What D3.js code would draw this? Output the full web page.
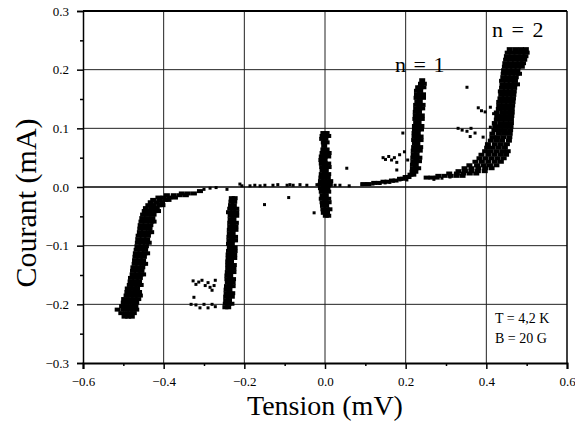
<!DOCTYPE html>
<html>
  <head>
    <meta charset="utf-8">
    <title>Courant / Tension</title>
    <script src="https://d3js.org/d3.v7.min.js"></script>
  </head>
  <style>
    body { margin: 0; background: #fff; }
    svg text { font-family: "Liberation Serif", "DejaVu Serif", "Noto Serif", serif; fill: #000; }
    .axis text { font-size: 13px; }
    .axis path, .axis line { stroke: #000; stroke-width: 1.5px; }
    .grid-line { stroke: #222; stroke-width: 1px; }
  </style>
  <body>
    <script>
      const width = 575;
      const height = 428;
      const margin = {top: 11, right: 8, bottom: 65, left: 83};

      // axis ticks
      const xTicks = [-0.6, -0.4, -0.2, 0.0, 0.2, 0.4, 0.6];
      const yTicks = [-0.3, -0.2, -0.1, 0.0, 0.1, 0.2, 0.3];
      const xMinor = [-0.5, -0.3, -0.1, 0.1, 0.3, 0.5];
      const yMinor = [-0.25, -0.15, -0.05, 0.05, 0.15, 0.25];

      // bands read row by row : [courant mA, [tensions mV]]
      // n = 2, negative branch
      const branchNeg2 = [
        [-0.221, [-0.497, -0.488, -0.479]],
        [-0.215, [-0.505, -0.493, -0.483, -0.474]],
        [-0.209, [-0.514, -0.499, -0.488, -0.477, -0.468]],
        [-0.203, [-0.503, -0.494, -0.482, -0.47]],
        [-0.197, [-0.499, -0.488, -0.476, -0.468]],
        [-0.191, [-0.498, -0.485, -0.473, -0.463]],
        [-0.185, [-0.492, -0.482, -0.471, -0.459]],
        [-0.179, [-0.49, -0.479, -0.468, -0.461]],
        [-0.173, [-0.489, -0.476, -0.466]],
        [-0.167, [-0.484, -0.474, -0.463, -0.457]],
        [-0.161, [-0.482, -0.471, -0.461]],
        [-0.155, [-0.481, -0.469, -0.459]],
        [-0.149, [-0.477, -0.467, -0.457, -0.451]],
        [-0.143, [-0.476, -0.465, -0.455]],
        [-0.137, [-0.475, -0.464, -0.453]],
        [-0.131, [-0.472, -0.462, -0.452, -0.446]],
        [-0.125, [-0.471, -0.461, -0.451]],
        [-0.119, [-0.47, -0.459, -0.449]],
        [-0.113, [-0.469, -0.458, -0.447, -0.441]],
        [-0.107, [-0.467, -0.456, -0.446]],
        [-0.101, [-0.465, -0.455, -0.444]],
        [-0.095, [-0.464, -0.453, -0.443, -0.437]],
        [-0.089, [-0.463, -0.452, -0.441]],
        [-0.083, [-0.462, -0.45, -0.439]],
        [-0.077, [-0.459, -0.449, -0.437, -0.431]],
        [-0.071, [-0.458, -0.447, -0.435]],
        [-0.065, [-0.457, -0.445, -0.433]],
        [-0.059, [-0.455, -0.443, -0.431, -0.425]],
        [-0.053, [-0.453, -0.441, -0.428]],
        [-0.047, [-0.451, -0.438, -0.425]],
        [-0.041, [-0.447, -0.434, -0.421, -0.414]],
        [-0.036, [-0.444, -0.43, -0.417]],
        [-0.031, [-0.438, -0.425, -0.411, -0.403]],
        [-0.026, [-0.432, -0.418, -0.404]],
        [-0.022, [-0.426, -0.41, -0.396, -0.388]],
        [-0.018, [-0.413, -0.4, -0.386, -0.372]],
        [-0.014, [-0.392, -0.375, -0.36, -0.345]],
        [-0.011, [-0.355, -0.34, -0.325]],
        [-0.007, [-0.31]]
      ];

      // n = 1, negative branch
      const branchNeg1 = [
        [-0.205, [-0.247, -0.24]],
        [-0.199, [-0.246, -0.239, -0.232]],
        [-0.193, [-0.245, -0.238]],
        [-0.187, [-0.245, -0.238, -0.231]],
        [-0.181, [-0.244, -0.237, -0.23]],
        [-0.175, [-0.244, -0.237]],
        [-0.169, [-0.243, -0.236, -0.229]],
        [-0.163, [-0.241, -0.236, -0.229]],
        [-0.157, [-0.242, -0.235, -0.228]],
        [-0.151, [-0.242, -0.235]],
        [-0.145, [-0.241, -0.234, -0.227]],
        [-0.139, [-0.24, -0.234, -0.227]],
        [-0.133, [-0.24, -0.233, -0.226]],
        [-0.127, [-0.24, -0.233]],
        [-0.121, [-0.239, -0.232, -0.225]],
        [-0.115, [-0.239, -0.232, -0.225]],
        [-0.109, [-0.238, -0.231, -0.224]],
        [-0.103, [-0.236, -0.231, -0.224]],
        [-0.097, [-0.238, -0.231]],
        [-0.091, [-0.237, -0.23, -0.223]],
        [-0.085, [-0.237, -0.23, -0.223]],
        [-0.079, [-0.236, -0.229]],
        [-0.073, [-0.236, -0.229, -0.222]],
        [-0.067, [-0.235, -0.228, -0.222]],
        [-0.061, [-0.235, -0.228, -0.221]],
        [-0.055, [-0.234, -0.227]],
        [-0.049, [-0.234, -0.227, -0.22]],
        [-0.043, [-0.238, -0.228, -0.22]],
        [-0.037, [-0.235, -0.227, -0.22]],
        [-0.031, [-0.233, -0.226]],
        [-0.025, [-0.232, -0.225]],
        [-0.019, [-0.231, -0.224]]
      ];

      // jump at V = 0
      const branchZero = [
        [0.092, [-0.004, 0.004]],
        [0.087, [-0.006, 0.002, 0.008]],
        [0.082, [-0.007, 0.001]],
        [0.076, [-0.003, 0.004]],
        [0.07, [-0.002]],
        [0.064, [-0.004, 0.004]],
        [0.058, [-0.006, 0.002, 0.009]],
        [0.052, [-0.008, 0.0, 0.008]],
        [0.046, [-0.009, -0.001]],
        [0.04, [-0.008, 0.0, 0.008]],
        [0.034, [-0.007, 0.001, 0.009]],
        [0.028, [-0.006, 0.002]],
        [0.022, [-0.008, 0.0, 0.008]],
        [0.016, [-0.009, -0.001, 0.007]],
        [0.01, [-0.01, -0.002, 0.006, 0.013]],
        [0.004, [-0.011, -0.003, 0.005, 0.012]],
        [-0.002, [-0.01, -0.002, 0.006]],
        [-0.008, [-0.008, 0.0, 0.008]],
        [-0.014, [-0.006, 0.002]],
        [-0.02, [-0.008, 0.0, 0.008]],
        [-0.026, [-0.006, 0.002, 0.009]],
        [-0.032, [-0.005, 0.003]],
        [-0.038, [-0.004, 0.004, 0.011]],
        [-0.044, [-0.003, 0.005]],
        [-0.049, [0.002, 0.008]]
      ];

      // n = 1, positive branch
      const branchPos1 = [
        [0.182, [0.241]],
        [0.176, [0.238, 0.245]],
        [0.17, [0.231, 0.237, 0.244]],
        [0.164, [0.228, 0.236]],
        [0.158, [0.228, 0.236, 0.243]],
        [0.152, [0.227, 0.235, 0.243]],
        [0.146, [0.229, 0.235]],
        [0.14, [0.226, 0.234, 0.242]],
        [0.134, [0.226, 0.234, 0.241]],
        [0.128, [0.225, 0.233]],
        [0.122, [0.225, 0.233, 0.24]],
        [0.116, [0.224, 0.232, 0.24]],
        [0.11, [0.226, 0.232]],
        [0.104, [0.223, 0.231, 0.239]],
        [0.098, [0.223, 0.231, 0.238]],
        [0.092, [0.222, 0.23]],
        [0.086, [0.222, 0.23, 0.237]],
        [0.08, [0.221, 0.229, 0.237]],
        [0.074, [0.223, 0.229]],
        [0.068, [0.221, 0.228, 0.236]],
        [0.062, [0.22, 0.228, 0.235]],
        [0.056, [0.22, 0.227]],
        [0.05, [0.219, 0.227, 0.234]],
        [0.044, [0.219, 0.226, 0.233]],
        [0.038, [0.218, 0.225]],
        [0.032, [0.218, 0.225, 0.231]],
        [0.026, [0.217, 0.224]],
        [0.021, [0.212, 0.219]],
        [0.017, [0.2, 0.207]],
        [0.014, [0.186, 0.193]],
        [0.011, [0.166, 0.175]],
        [0.009, [0.145, 0.155]],
        [0.007, [0.122, 0.133]],
        [0.005, [0.095, 0.108]]
      ];

      // n = 2, positive branch
      const branchPos2 = [
        [0.235, [0.458, 0.472, 0.486, 0.498]],
        [0.229, [0.453, 0.465, 0.478, 0.49, 0.5]],
        [0.223, [0.451, 0.463, 0.475, 0.487, 0.497]],
        [0.217, [0.449, 0.461, 0.473, 0.485, 0.494]],
        [0.211, [0.447, 0.459, 0.471, 0.482, 0.491]],
        [0.205, [0.446, 0.457, 0.468, 0.479, 0.488]],
        [0.199, [0.444, 0.455, 0.466, 0.477]],
        [0.193, [0.443, 0.453, 0.464, 0.475, 0.481]],
        [0.187, [0.442, 0.452, 0.462, 0.473]],
        [0.181, [0.439, 0.451, 0.461, 0.471]],
        [0.175, [0.44, 0.45, 0.46, 0.47, 0.476]],
        [0.169, [0.439, 0.449, 0.459, 0.469]],
        [0.163, [0.436, 0.448, 0.458, 0.468]],
        [0.157, [0.437, 0.447, 0.457, 0.467]],
        [0.151, [0.435, 0.445, 0.456, 0.466]],
        [0.145, [0.432, 0.444, 0.455, 0.465]],
        [0.139, [0.432, 0.443, 0.454, 0.464]],
        [0.133, [0.431, 0.442, 0.453, 0.463]],
        [0.127, [0.426, 0.441, 0.452, 0.463]],
        [0.121, [0.427, 0.439, 0.451, 0.462]],
        [0.115, [0.426, 0.438, 0.45, 0.461]],
        [0.109, [0.421, 0.436, 0.448, 0.461]],
        [0.103, [0.422, 0.434, 0.447, 0.46]],
        [0.097, [0.42, 0.433, 0.446, 0.459]],
        [0.091, [0.415, 0.431, 0.444, 0.458]],
        [0.085, [0.415, 0.428, 0.442, 0.457]],
        [0.079, [0.411, 0.425, 0.439, 0.456]],
        [0.073, [0.404, 0.421, 0.436, 0.451]],
        [0.067, [0.402, 0.416, 0.431, 0.446]],
        [0.061, [0.397, 0.411, 0.426, 0.441, 0.453]],
        [0.055, [0.388, 0.405, 0.42, 0.435, 0.449]],
        [0.049, [0.383, 0.398, 0.413, 0.428, 0.443]],
        [0.043, [0.373, 0.389, 0.405, 0.421, 0.436]],
        [0.037, [0.358, 0.377, 0.393, 0.409, 0.425]],
        [0.032, [0.346, 0.363, 0.38, 0.397, 0.413]],
        [0.027, [0.331, 0.347, 0.363, 0.379, 0.396]],
        [0.023, [0.308, 0.327, 0.343, 0.359, 0.375]],
        [0.019, [0.281, 0.296, 0.311, 0.326, 0.341]],
        [0.016, [0.252, 0.264, 0.277]]
      ];

      // points along the supraconducting plateau : [tension, courant]
      const flatPoints = [
        [-0.3, -0.004], [-0.285, -0.002], [-0.27, -0.001], [-0.243, -0.004], [-0.211, 0.005],
        [-0.206, 0.002], [-0.186, 0.002], [-0.174, 0.003], [-0.161, 0.002], [-0.149, 0.003],
        [-0.129, 0.003], [-0.117, 0.004], [-0.094, 0.003], [-0.087, 0.004], [-0.079, 0.003],
        [-0.062, 0.004], [-0.045, 0.003], [-0.02, 0.004], [0.012, 0.002], [0.025, 0.003],
        [0.037, 0.003], [0.06, 0.002], [0.092, 0.004], [0.104, 0.005], [0.119, 0.005],
        [0.136, 0.006], [0.149, 0.007], [0.161, 0.008], [0.169, 0.01], [0.186, 0.012],
        [0.203, 0.012], [0.27, 0.013], [0.29, 0.015], [0.31, 0.017]
      ];

      // stray points : [tension, courant]
      const strayPoints = [
        [-0.327, -0.16], [-0.32, -0.166], [-0.313, -0.162], [-0.305, -0.159], [-0.297, -0.168],
        [-0.29, -0.163], [-0.285, -0.171], [-0.28, -0.176], [-0.275, -0.168], [-0.272, -0.159],
        [-0.325, -0.188], [-0.332, -0.2], [-0.32, -0.201], [-0.31, -0.206], [-0.3, -0.2],
        [-0.29, -0.206], [-0.28, -0.2], [-0.272, -0.204],
        [-0.15, -0.03], [-0.09, -0.018], [-0.027, -0.044], [0.054, 0.032],
        [0.144, 0.05], [0.15, 0.047], [0.158, 0.052], [0.165, 0.046], [0.172, 0.05],
        [0.178, 0.042], [0.185, 0.055], [0.197, 0.06], [0.178, 0.029], [0.193, 0.092],
        [0.205, 0.046], [0.352, 0.17], [0.38, 0.135], [0.388, 0.13], [0.397, 0.128],
        [0.41, 0.136], [0.418, 0.125], [0.33, 0.1], [0.34, 0.097], [0.352, 0.095],
        [0.362, 0.1], [0.372, 0.092], [0.36, 0.086], [0.392, 0.085], [0.41, 0.102]
      ];

      function fromRows(rows) {
        const pts = [];
        rows.forEach(function(row) {
          row[1].forEach(function(v) { pts.push([v, row[0]]); });
        });
        return pts;
      }

      const bandPoints = [].concat(
        fromRows(branchNeg2), fromRows(branchNeg1), fromRows(branchZero),
        fromRows(branchPos1), fromRows(branchPos2)
      );
      const loosePoints = flatPoints.concat(strayPoints);

      const xScale = d3.scaleLinear()
        .domain([-0.6, 0.6])
        .range([margin.left, width - margin.right]);

      const yScale = d3.scaleLinear()
        .domain([-0.3, 0.3])
        .range([height - margin.bottom, margin.top]);

      const svg = d3.select("body")
        .append("svg")
          .attr("width", width)
          .attr("height", height);

      // grid
      svg.append("g")
        .selectAll("line")
        .data(xTicks.slice(1, -1))
        .enter()
        .append("line")
          .classed("grid-line", true)
          .attr("x1", function(d) { return xScale(d); })
          .attr("x2", function(d) { return xScale(d); })
          .attr("y1", yScale(-0.3))
          .attr("y2", yScale(0.3));

      svg.append("g")
        .selectAll("line")
        .data(yTicks.slice(1, -1))
        .enter()
        .append("line")
          .classed("grid-line", true)
          .attr("x1", xScale(-0.6))
          .attr("x2", xScale(0.6))
          .attr("y1", function(d) { return yScale(d); })
          .attr("y2", function(d) { return yScale(d); })
          .style("stroke-width", function(d) { return d === 0 ? 1.6 : 1; })
          .style("stroke", function(d) { return d === 0 ? "#000" : null; });

      // frame top / right
      svg.append("line")
        .attr("x1", xScale(-0.6)).attr("x2", xScale(0.6))
        .attr("y1", yScale(0.3)).attr("y2", yScale(0.3))
        .style("stroke", "#000").style("stroke-width", 2);
      svg.append("line")
        .attr("x1", xScale(0.6)).attr("x2", xScale(0.6))
        .attr("y1", yScale(0.3)).attr("y2", yScale(-0.3))
        .style("stroke", "#000").style("stroke-width", 1.5);

      // axes
      svg.append("g")
          .classed("axis", true)
          .attr("transform", "translate(0," + yScale(-0.3) + ")")
          .call(d3.axisBottom(xScale).tickValues(xTicks).tickFormat(d3.format(".1f"))
            .tickSize(6).tickPadding(8))
          .call(function(g) { g.select(".domain").style("stroke-width", 2); })
          .attr("font-family", null);

      svg.append("g")
          .classed("axis", true)
          .attr("transform", "translate(0," + yScale(-0.3) + ")")
          .call(d3.axisBottom(xScale).tickValues(xMinor).tickFormat("").tickSize(3))
          .call(function(g) { g.select(".domain").remove(); });

      svg.append("g")
          .classed("axis", true)
          .attr("transform", "translate(" + xScale(-0.6) + ",0)")
          .call(d3.axisLeft(yScale).tickValues(yTicks).tickFormat(d3.format(".1f"))
            .tickSize(6).tickPadding(8))
          .attr("font-family", null);

      svg.append("g")
          .classed("axis", true)
          .attr("transform", "translate(" + xScale(-0.6) + ",0)")
          .call(d3.axisLeft(yScale).tickValues(yMinor).tickFormat("").tickSize(3))
          .call(function(g) { g.select(".domain").remove(); });

      // data points
      svg.append("g")
        .selectAll("rect")
        .data(bandPoints)
        .enter()
        .append("rect")
          .attr("x", function(d) { return xScale(d[0]) - 3; })
          .attr("y", function(d) { return yScale(d[1]) - 2; })
          .attr("width", 6)
          .attr("height", 4)
          .attr("fill", "#000");

      svg.append("g")
        .selectAll("rect")
        .data(loosePoints)
        .enter()
        .append("rect")
          .attr("x", function(d) { return xScale(d[0]) - 1.5; })
          .attr("y", function(d) { return yScale(d[1]) - 1.5; })
          .attr("width", 3)
          .attr("height", 3)
          .attr("fill", "#000");

      // titles
      svg.append("text")
          .attr("transform", "translate(36," + 203 + ") rotate(-90)")
          .attr("text-anchor", "middle")
          .style("font-size", "30px")
          .text("Courant (mA)");

      svg.append("text")
          .attr("x", xScale(0))
          .attr("y", 415)
          .attr("text-anchor", "middle")
          .style("font-size", "28px")
          .text("Tension (mV)");

      // annotations
      svg.append("text")
          .attr("x", 492).attr("y", 37)
          .style("font-size", "22px")
          .style("word-spacing", "3px")
          .text("n = 2");

      svg.append("text")
          .attr("x", 395).attr("y", 72)
          .style("font-size", "22px")
          .style("word-spacing", "2px")
          .text("n = 1");

      svg.append("text")
          .attr("x", 495).attr("y", 323)
          .style("font-size", "14px")
          .text("T = 4,2 K");

      svg.append("text")
          .attr("x", 495).attr("y", 343)
          .style("font-size", "14px")
          .text("B = 20 G");
    </script>
  </body>
</html>
